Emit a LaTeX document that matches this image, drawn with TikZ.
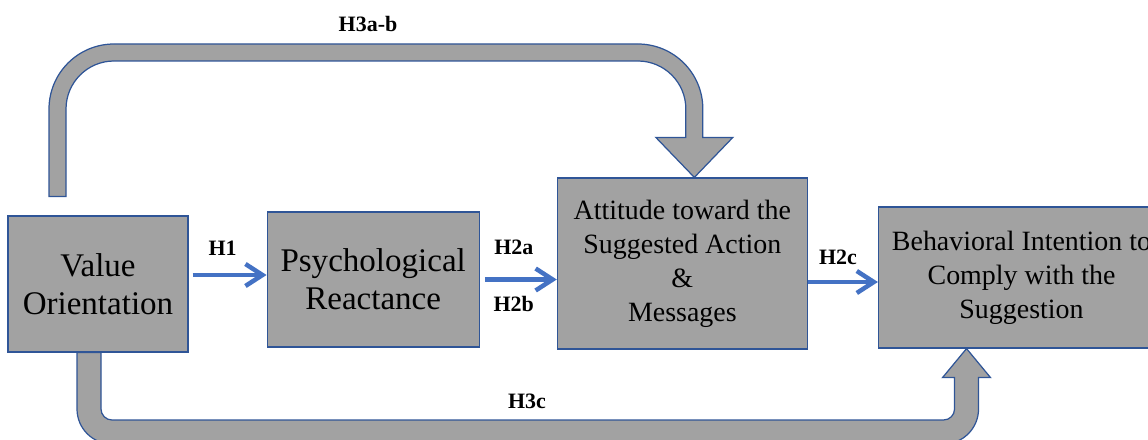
\documentclass[tikz,border=0pt]{standalone}
\usepackage{fontspec}
\setmainfont{Liberation Serif}
\usepackage{xcolor}
\usepackage{tikz}
\usetikzlibrary{arrows.meta, positioning, calc}
\definecolor{boxgray}{RGB}{162,162,162}
\definecolor{edgeblue}{RGB}{47,85,151}
\definecolor{arrblue}{RGB}{68,114,196}
\tikzset{
  block/.style={rectangle, draw=edgeblue, fill=boxgray, align=center,
    inner sep=0pt, line width=0.7pt},
  bigfont/.style={font=\fontsize{18.8pt}{21.6pt}\selectfont},
  smallfont/.style={font=\fontsize{15.9pt}{19.4pt}\selectfont},
  hlab/.style={font=\fontsize{12.5pt}{14pt}\selectfont\bfseries, text=black, inner sep=0pt},
  barrow/.style={-{Straight Barb[length=0.34cm, width=0.44cm]}, line width=0.09cm, color=arrblue},
  fatarrow/.style={draw=edgeblue, fill=boxgray, line width=0.7pt}
}

\begin{document}
\begin{tikzpicture}[x=0.02cm, y=-0.02cm]
  \useasboundingbox (0,0) rectangle (1148,439);

  % Nodes
  \node[block, bigfont, minimum width=3.6cm, minimum height=2.72cm] (vo) at (98,284) {Value\\Orientation};
  \node[block, bigfont, minimum width=4.24cm, minimum height=2.7cm, right=1.56cm of vo, yshift=0.09cm] (pr) {Psychological\\Reactance};
  \node[block, smallfont, minimum width=5cm, minimum height=3.42cm, right=1.54cm of pr, yshift=0.32cm] (att) {Attitude toward the\\Suggested Action\\\&\\Messages};
  \node[block, smallfont, minimum width=5.72cm, minimum height=2.82cm, right=1.4cm of att, yshift=-0.28cm] (bi) {Behavioral Intention to\\Comply with the\\Suggestion};

  % Arrows
  \draw[barrow] ([xshift=0.08cm, yshift=0.18cm]vo.east) -- node[hlab, above=0.34cm, xshift=-0.14cm] {H1} ([yshift=0.09cm]pr.west);
  \draw[barrow] ([xshift=0.1cm]pr.east) -- node[hlab, above=0.46cm, xshift=-0.14cm] {H2a} node[hlab, below=0.3cm, xshift=-0.14cm] {H2b} (pr.east -| att.west);
  \coordinate (c2) at ([yshift=-0.09cm]bi.west);
  \draw[barrow] (c2 -| att.east) -- node[hlab, above=0.3cm, xshift=-0.1cm] {H2c} (c2);

  % Fat arrow over the top
  \coordinate (ab0) at ([xshift=-0.81cm, yshift=0.38cm]vo.north);
  \coordinate (abtip) at ([xshift=0.24cm]att.north);
  \coordinate (ab3) at ([yshift=0.8cm]abtip);
  \coordinate (ab1) at (ab0 |- 0,52.5);
  \coordinate (ab2) at (ab3 |- 0,52.5);
  \path[fatarrow] ($(ab0)+(-8.5,0)$) [rounded corners=1.3cm] -- ($(ab1)+(-8.5,-8.5)$) -- ($(ab2)+(8.5,-8.5)$)
    [sharp corners] -- ($(ab3)+(8.5,0)$) -- ($(ab3)+(38.5,0)$) -- (abtip) -- ($(ab3)+(-38.5,0)$) -- ($(ab3)+(-8.5,0)$)
    [rounded corners=0.96cm] -- ($(ab2)+(-8.5,8.5)$) -- ($(ab1)+(8.5,8.5)$)
    [sharp corners] -- ($(ab0)+(8.5,0)$) -- cycle;
  \node[hlab] (l3ab) at (368,24) {H3a-b};

  % Fat arrow along the bottom
  \coordinate (cd0) at ([xshift=-0.18cm]vo.south);
  \coordinate (cdtip) at ([xshift=-1.1cm]bi.south);
  \coordinate (cd3) at ([yshift=-0.58cm]cdtip);
  \coordinate (cd1) at (cd0 |- 0,432);
  \coordinate (cd2) at (cd3 |- 0,432);
  \path[fatarrow] ($(cd0)+(12,0)$) [rounded corners=0.22cm] -- ($(cd1)+(12,-12)$) -- ($(cd2)+(-12,-12)$)
    [sharp corners] -- ($(cd3)+(-12,0)$) -- ($(cd3)+(-24,0)$) -- (cdtip) -- ($(cd3)+(24,0)$) -- ($(cd3)+(12,0)$)
    [rounded corners=0.7cm] -- ($(cd2)+(12,12)$) -- ($(cd1)+(-12,12)$)
    [sharp corners] -- ($(cd0)+(-12,0)$) -- cycle;
  \node[hlab] (l3c) at (527,401) {H3c};
\end{tikzpicture}
\end{document}
